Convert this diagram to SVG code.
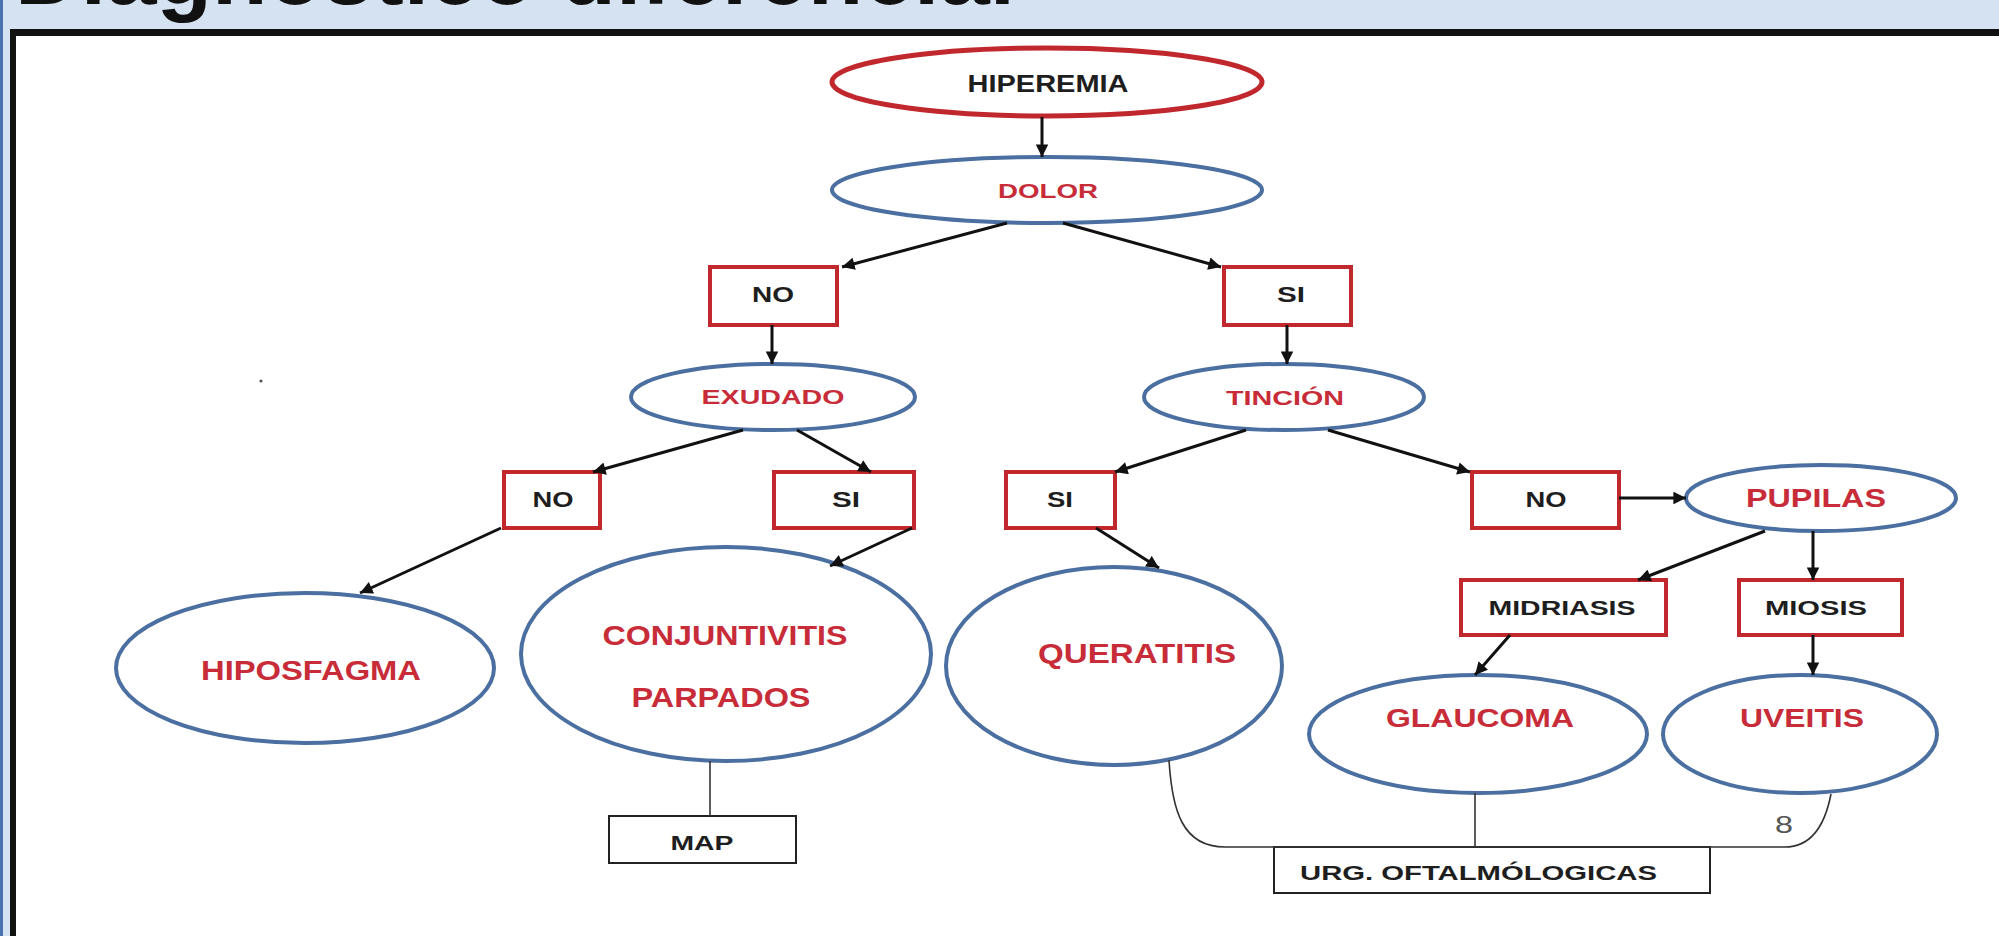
<svg xmlns="http://www.w3.org/2000/svg" width="1999" height="936" viewBox="0 0 1999 936">
<defs>
<style>
.t{font-family:"Liberation Sans",Arial,sans-serif;font-weight:bold;text-anchor:middle}
.red{fill:#c72c38}
.blk{fill:#1e1e1e}
.eb{fill:#fff;stroke:#4a6fa0;stroke-width:4}
.er{fill:#fff;stroke:#c0282e;stroke-width:5}
.rb{fill:#fff;stroke:#c0282e;stroke-width:4}
.kb{fill:#fff;stroke:#222;stroke-width:2}
.arr{stroke:#111;stroke-width:3;fill:none;marker-end:url(#ah)}
.thin{stroke:#333;stroke-width:1.6;fill:none}
</style>
<marker id="ah" viewBox="0 0 10 10" refX="10" refY="5" markerWidth="4.4" markerHeight="4.2" orient="auto" markerUnits="strokeWidth">
<path d="M0,0 L10,5 L0,10 z" fill="#111"/>
</marker>
</defs>
<rect x="0" y="0" width="1999" height="936" fill="#d4e2f1"/>
<rect x="0" y="0" width="3" height="936" fill="#4a72b0"/>
<rect x="10" y="36" width="1989" height="900" fill="#fff"/>
<text x="15" y="4" font-family="'Liberation Sans',Arial,sans-serif" font-weight="bold" font-size="90" fill="#111" textLength="1000" lengthAdjust="spacingAndGlyphs">Diagnóstico diferencial</text>
<rect x="10" y="29" width="1989" height="7" fill="#111"/>
<rect x="10" y="29" width="6" height="907" fill="#111"/>
<circle cx="261" cy="381" r="1.6" fill="#555"/>

<g id="n-hiperemia"><ellipse class="er" cx="1047" cy="82" rx="215" ry="34"/><text class="t blk" x="1048" y="92" font-size="23" textLength="161" lengthAdjust="spacingAndGlyphs">HIPEREMIA</text></g>
<g id="n-dolor"><ellipse class="eb" cx="1047" cy="190" rx="215" ry="33"/><text class="t red" x="1048" y="198" font-size="21" textLength="100" lengthAdjust="spacingAndGlyphs">DOLOR</text></g>
<g id="n-no1"><rect class="rb" x="710" y="267" width="127" height="58"/><text class="t blk" x="773" y="302" font-size="22" textLength="42" lengthAdjust="spacingAndGlyphs">NO</text></g>
<g id="n-si1"><rect class="rb" x="1224" y="267" width="127" height="58"/><text class="t blk" x="1291" y="302" font-size="22" textLength="28" lengthAdjust="spacingAndGlyphs">SI</text></g>
<g id="n-exudado"><ellipse class="eb" cx="773" cy="397" rx="142" ry="33"/><text class="t red" x="773" y="404" font-size="21" textLength="143" lengthAdjust="spacingAndGlyphs">EXUDADO</text></g>
<g id="n-tincion"><ellipse class="eb" cx="1284" cy="397" rx="140" ry="33"/><text class="t red" x="1285" y="405" font-size="21" textLength="118" lengthAdjust="spacingAndGlyphs">TINCIÓN</text></g>
<g id="n-no2"><rect class="rb" x="504" y="472" width="96" height="56"/><text class="t blk" x="553" y="507" font-size="22" textLength="41" lengthAdjust="spacingAndGlyphs">NO</text></g>
<g id="n-si2"><rect class="rb" x="774" y="472" width="140" height="56"/><text class="t blk" x="846" y="507" font-size="22" textLength="28" lengthAdjust="spacingAndGlyphs">SI</text></g>
<g id="n-si3"><rect class="rb" x="1006" y="472" width="109" height="56"/><text class="t blk" x="1060" y="507" font-size="22" textLength="26" lengthAdjust="spacingAndGlyphs">SI</text></g>
<g id="n-no3"><rect class="rb" x="1472" y="472" width="147" height="56"/><text class="t blk" x="1546" y="507" font-size="22" textLength="41" lengthAdjust="spacingAndGlyphs">NO</text></g>
<g id="n-pupilas"><ellipse class="eb" cx="1821" cy="498" rx="135" ry="33"/><text class="t red" x="1816" y="507" font-size="25" textLength="140" lengthAdjust="spacingAndGlyphs">PUPILAS</text></g>
<g id="n-midriasis"><rect class="rb" x="1461" y="580" width="205" height="55"/><text class="t blk" x="1562" y="615" font-size="21" textLength="147" lengthAdjust="spacingAndGlyphs">MIDRIASIS</text></g>
<g id="n-miosis"><rect class="rb" x="1739" y="580" width="163" height="55"/><text class="t blk" x="1816" y="615" font-size="21" textLength="102" lengthAdjust="spacingAndGlyphs">MIOSIS</text></g>
<g id="n-hiposfagma"><ellipse class="eb" cx="305" cy="668" rx="189" ry="75"/><text class="t red" x="311" y="680" font-size="28" textLength="220" lengthAdjust="spacingAndGlyphs">HIPOSFAGMA</text></g>
<g id="n-conjuntivitis"><ellipse class="eb" cx="726" cy="654" rx="205" ry="107"/><text class="t red" x="725" y="645" font-size="28" textLength="245" lengthAdjust="spacingAndGlyphs">CONJUNTIVITIS</text><text class="t red" x="721" y="707" font-size="28" textLength="179" lengthAdjust="spacingAndGlyphs">PARPADOS</text></g>
<g id="n-queratitis"><ellipse class="eb" cx="1114" cy="666" rx="168" ry="99"/><text class="t red" x="1137" y="663" font-size="28" textLength="198" lengthAdjust="spacingAndGlyphs">QUERATITIS</text></g>
<g id="n-glaucoma"><ellipse class="eb" cx="1478" cy="734" rx="169" ry="59"/><text class="t red" x="1480" y="727" font-size="26" textLength="188" lengthAdjust="spacingAndGlyphs">GLAUCOMA</text></g>
<g id="n-uveitis"><ellipse class="eb" cx="1800" cy="734" rx="137" ry="59"/><text class="t red" x="1802" y="727" font-size="26" textLength="124" lengthAdjust="spacingAndGlyphs">UVEITIS</text></g>
<g id="n-map"><rect class="kb" x="609" y="816" width="187" height="47"/><text class="t blk" x="702" y="850" font-size="21" textLength="63" lengthAdjust="spacingAndGlyphs">MAP</text></g>
<g id="n-urg"><rect class="kb" x="1274" y="847" width="436" height="46"/><text x="1300" y="880" font-family="'Liberation Sans',Arial,sans-serif" font-weight="bold" font-size="21" fill="#1e1e1e" textLength="357" lengthAdjust="spacingAndGlyphs">URG. OFTALMÓLOGICAS</text></g>
<text x="1784" y="833" font-family="'Liberation Sans',Arial,sans-serif" font-size="24" fill="#555" text-anchor="middle" textLength="18" lengthAdjust="spacingAndGlyphs">8</text>

<g id="connectors">
<line class="arr" x1="1042" y1="117" x2="1042" y2="157"/>
<line class="arr" x1="1007" y1="223" x2="842" y2="267"/>
<line class="arr" x1="1063" y1="223" x2="1221" y2="267"/>
<line class="arr" x1="772" y1="325" x2="772" y2="364"/>
<line class="arr" x1="1287" y1="325" x2="1287" y2="364"/>
<line class="arr" x1="743" y1="430" x2="593" y2="472"/>
<line class="arr" x1="797" y1="430" x2="871" y2="472"/>
<line class="arr" x1="1246" y1="430" x2="1115" y2="472"/>
<line class="arr" x1="1328" y1="430" x2="1470" y2="472"/>
<line class="arr" x1="1619" y1="498" x2="1686" y2="498"/>
<line class="arr" x1="501" y1="528" x2="360" y2="593"/>
<line class="arr" x1="912" y1="528" x2="830" y2="566"/>
<line class="arr" x1="1096" y1="528" x2="1159" y2="568"/>
<line class="arr" x1="1765" y1="531" x2="1638" y2="580"/>
<line class="arr" x1="1813" y1="531" x2="1813" y2="580"/>
<line class="arr" x1="1510" y1="635" x2="1475" y2="675"/>
<line class="arr" x1="1813" y1="635" x2="1813" y2="675"/>
<line class="thin" x1="710" y1="761" x2="710" y2="816"/>
<path class="thin" d="M1169,760 C1172,810 1182,847 1225,847 L1785,847 C1808,847 1824,830 1831,794"/>
<line class="thin" x1="1475" y1="793" x2="1475" y2="847"/>
</g>
</svg>
